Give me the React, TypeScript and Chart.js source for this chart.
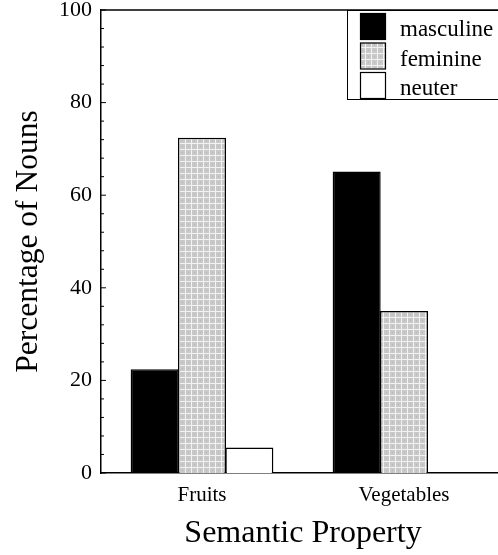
import React, { useEffect, useRef } from 'react';
import { Chart, registerables } from 'chart.js';

Chart.register(...registerables);

const categories = ['Fruits', 'Vegetables'];
const masculine = [22.4, 65.1];
const feminine = [72.4, 35.0];
const neuter = [5.5, 0];
const seriesNames = ['masculine', 'feminine', 'neuter'];
const yMin = 0;
const yMax = 100;
const yMinorStep = 4;
const yMajorStep = 20;

const FONT = "'Liberation Serif', 'Times New Roman', serif";

function makePattern(): CanvasPattern | string {
  const c = document.createElement('canvas');
  c.width = 6;
  c.height = 6;
  const g = c.getContext('2d');
  if (!g) return '#d5d5d5';
  g.fillStyle = '#c8c8c8';
  g.fillRect(0, 0, 6, 6);
  g.fillStyle = '#f2f2f2';
  g.fillRect(5, 0, 1, 6);
  g.fillRect(0, 5, 6, 1);
  g.fillStyle = '#b8b8b8';
  g.fillRect(2, 2, 1, 1);
  const p = g.createPattern(c, 'repeat');
  return p || '#d5d5d5';
}

const decor = {
  id: 'decor',
  afterDraw(chart: any) {
    const ctx = chart.ctx as CanvasRenderingContext2D;
    const { left, top } = chart.chartArea;
    const y = chart.scales.y;
    ctx.save();
    ctx.strokeStyle = '#000';
    ctx.lineWidth = 1.5;
    ctx.beginPath();
    ctx.moveTo(left, top);
    ctx.lineTo(chart.width, top);
    ctx.stroke();

    ctx.lineWidth = 1;
    y.ticks.forEach((t: any) => {
      const py = y.getPixelForValue(t.value);
      const len = t.value % yMajorStep === 0 ? 5 : 3;
      ctx.beginPath();
      ctx.moveTo(left, py);
      ctx.lineTo(left + len, py);
      ctx.stroke();
    });

    // legend box
    const lx = 347;
    const ly = top;
    const lh = 89;
    ctx.lineWidth = 1;
    ctx.strokeStyle = '#000';
    ctx.fillStyle = '#fff';
    ctx.fillRect(lx, ly, chart.width - lx + 2, lh);
    ctx.strokeRect(lx + 0.5, ly + 0.5, chart.width - lx + 2, lh);

    ctx.font = `23px ${FONT}`;
    ctx.textBaseline = 'middle';
    ctx.textAlign = 'left';
    chart.data.datasets.forEach((ds: any, i: number) => {
      const sx = lx + 13;
      const sy = ly + 3 + i * 29.5;
      ctx.fillStyle = ds.backgroundColor;
      ctx.fillRect(sx, sy, 25, 26);
      ctx.lineWidth = 1.2;
      ctx.strokeStyle = '#000';
      ctx.strokeRect(sx + 0.5, sy + 0.5, 25, 26);
      ctx.fillStyle = '#000';
      ctx.fillText(ds.label, lx + 53, sy + 17);
    });
    ctx.restore();
  },
};

export default function App() {
  const ref = useRef<HTMLCanvasElement | null>(null);

  useEffect(() => {
    if (!ref.current) return;
    const pattern = makePattern();
    const chart = new Chart(ref.current, {
      type: 'bar',
      data: {
        labels: categories,
        datasets: [
          {
            label: seriesNames[0],
            data: masculine,
            backgroundColor: '#000',
            borderColor: '#000',
            borderWidth: 1.5,
          },
          {
            label: seriesNames[1],
            data: feminine,
            backgroundColor: pattern as any,
            borderColor: '#000',
            borderWidth: 1.5,
          },
          {
            label: seriesNames[2],
            data: neuter,
            backgroundColor: '#fff',
            borderColor: '#000',
            borderWidth: 1.5,
          },
        ],
      },
      options: {
        animation: false,
        responsive: false,
        maintainAspectRatio: false,
        devicePixelRatio: 1,
        layout: { padding: { left: 10, top: 10, right: 1, bottom: 0 } },
        datasets: {
          bar: { categoryPercentage: 0.703, barPercentage: 1.015 },
        },
        plugins: {
          legend: { display: false },
          tooltip: { enabled: false },
        },
        scales: {
          x: {
            type: 'category',
            grid: { display: false, drawTicks: false },
            border: { display: true, color: '#000', width: 1.5 },
            ticks: {
              color: '#000',
              font: { family: FONT, size: 21 },
              padding: 10,
            },
            title: {
              display: true,
              text: 'Semantic Property',
              color: '#000',
              font: { family: FONT, size: 32 },
              padding: { top: 0, bottom: 2 },
            },
            afterFit(scale: any) {
              scale.height = 82;
              scale.paddingLeft = 0;
              scale.paddingRight = 0;
            },
          },
          y: {
            type: 'linear',
            min: yMin,
            max: yMax,
            grid: { display: false, drawTicks: false },
            border: { display: true, color: '#000', width: 1.5 },
            ticks: {
              stepSize: yMinorStep,
              autoSkip: false,
              color: '#000',
              font: { family: FONT, size: 22 },
              padding: 9,
              callback: (v: any) => (Number(v) % yMajorStep === 0 ? String(v) : ''),
            },
            title: {
              display: true,
              text: 'Percentage of Nouns',
              color: '#000',
              font: { family: FONT, size: 31.5 },
              padding: { top: 0, bottom: 0 },
            },
            afterFit(scale: any) {
              scale.width = 91;
              scale.paddingTop = 0;
              scale.paddingBottom = 0;
            },
          },
        },
      },
      plugins: [decor],
    });
    return () => chart.destroy();
  }, []);

  return (
    <div
      style={{
        position: 'fixed',
        left: 0,
        top: 0,
        width: 498,
        height: 555,
        overflow: 'hidden',
        background: '#fff',
      }}
    >
      <canvas ref={ref} width={506} height={555} style={{ display: 'block', width: 506, height: 555 }} />
    </div>
  );
}
